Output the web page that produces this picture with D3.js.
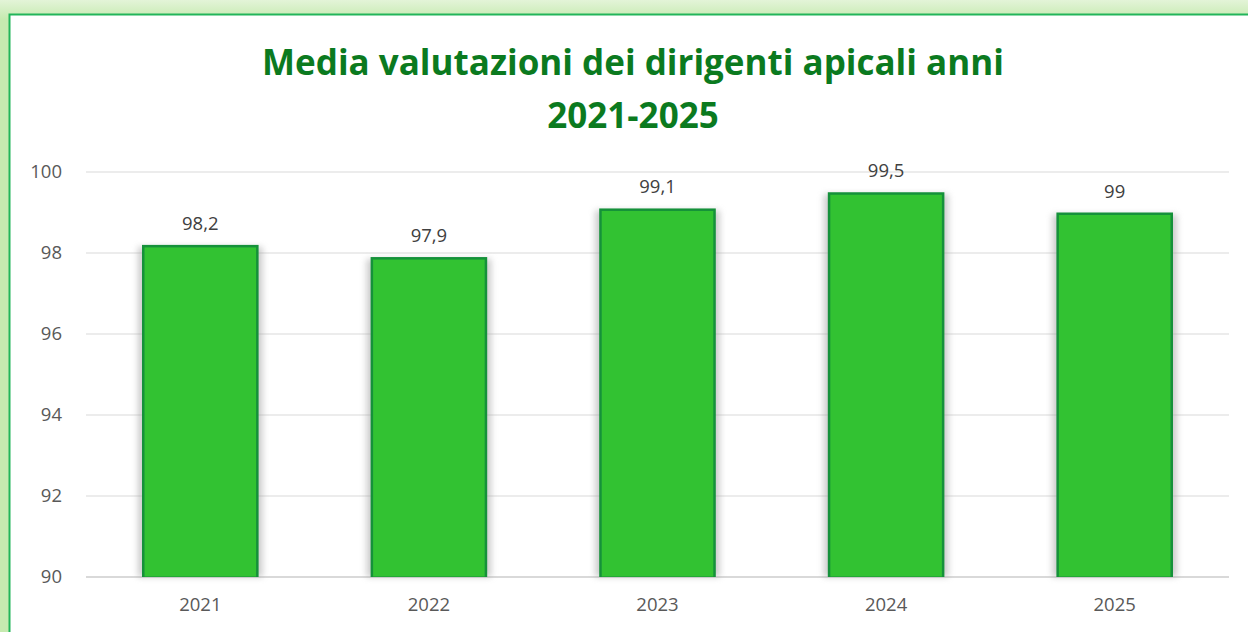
<!DOCTYPE html>
<html>
<head>
<meta charset="utf-8">
<script src="https://cdn.jsdelivr.net/npm/d3@7"></script>
<style>
  body { margin: 0; background: #fff; }
  svg { display: block; }
</style>
</head>
<body>
<div id="wrapper"></div>
<script>
// data
const years = ["2021", "2022", "2023", "2024", "2025"]
const values = [98.2, 97.9, 99.1, 99.5, 99]
const yTicks = [90, 92, 94, 96, 98, 100]
const titleLines = ["Media valutazioni dei dirigenti apicali anni", "2021-2025"]

const dimensions = {
  width: 1248,
  height: 632,
  margin: { top: 172, right: 19, bottom: 55, left: 86 },
}
dimensions.boundedWidth = dimensions.width - dimensions.margin.left - dimensions.margin.right
dimensions.boundedHeight = dimensions.height - dimensions.margin.top - dimensions.margin.bottom

const svg = d3.select("#wrapper").append("svg")
    .attr("width", dimensions.width)
    .attr("height", dimensions.height)

const defs = svg.append("defs")
const shadow = defs.append("filter").attr("id", "barShadow")
    .attr("x", "-20%").attr("y", "-5%").attr("width", "140%").attr("height", "110%")
shadow.append("feGaussianBlur").attr("stdDeviation", 3)

const bgGrad = defs.append("linearGradient").attr("id", "bgGrad")
    .attr("x1", 0).attr("y1", 0).attr("x2", 0).attr("y2", 1)
bgGrad.append("stop").attr("offset", "0%").attr("stop-color", "#e3f4d8")
bgGrad.append("stop").attr("offset", "3%").attr("stop-color", "#c6eab0")
bgGrad.append("stop").attr("offset", "100%").attr("stop-color", "#c6eab0")

// background frame
svg.append("rect")
    .attr("width", dimensions.width).attr("height", dimensions.height)
    .attr("fill", "url(#bgGrad)")
svg.append("rect")
    .attr("x", 9.5).attr("y", 14.5)
    .attr("width", dimensions.width + 20).attr("height", dimensions.height + 20)
    .attr("fill", "#ffffff")
    .attr("stroke", "#22b55a")
    .attr("stroke-width", 2)

// title
svg.append("g").selectAll("text")
  .data(titleLines)
  .join("text")
    .attr("x", 633)
    .attr("y", (d, i) => 75 + i * 53)
    .attr("text-anchor", "middle")
    .attr("fill", "#0b7a1f")
    .style("font-family", "'Open Sans', sans-serif")
    .style("font-weight", 700)
    .style("font-size", "35px")
    .text(d => d)

const bounds = svg.append("g")
    .attr("transform", `translate(${dimensions.margin.left}, ${dimensions.margin.top})`)

// scales
const xScale = d3.scaleBand()
    .domain(years)
    .range([0, dimensions.boundedWidth])
    .paddingInner(0.49)
    .paddingOuter(0.245)

const yScale = d3.scaleLinear()
    .domain([90, 100])
    .range([dimensions.boundedHeight, 0])

// gridlines
bounds.append("g").selectAll("line")
  .data(yTicks)
  .join("line")
    .attr("x1", 0).attr("x2", dimensions.boundedWidth)
    .attr("y1", d => yScale(d)).attr("y2", d => yScale(d))
    .attr("stroke", "#d9d9d9")
    .attr("stroke-width", d => d === 90 ? 2 : 1.2)

// y axis labels
const yAxis = bounds.append("g")
    .call(d3.axisLeft(yScale).tickValues(yTicks).tickSize(0).tickPadding(24))
yAxis.select(".domain").remove()
yAxis.selectAll("text")
    .attr("fill", "#595959")
    .style("font-family", "'Open Sans', sans-serif")
    .style("font-size", "18.5px")

// x axis labels
const xAxis = bounds.append("g")
    .attr("transform", `translate(0, ${dimensions.boundedHeight})`)
    .call(d3.axisBottom(xScale).tickSize(0).tickPadding(21))
xAxis.select(".domain").remove()
xAxis.selectAll("text")
    .attr("fill", "#595959")
    .style("font-family", "'Open Sans', sans-serif")
    .style("font-size", "18.5px")

// bars
const data = years.map((y, i) => ({ year: y, value: values[i] }))
const bw = xScale.bandwidth()

bounds.append("g").selectAll("rect")
  .data(data)
  .join("rect")
    .attr("x", d => xScale(d.year) - 4)
    .attr("y", d => yScale(d.value) + 2)
    .attr("width", bw + 8)
    .attr("height", d => dimensions.boundedHeight - yScale(d.value) - 2)
    .attr("fill", "#9a9a9a")
    .attr("opacity", 0.5)
    .attr("filter", "url(#barShadow)")

bounds.append("g").selectAll("rect")
  .data(data)
  .join("rect")
    .attr("x", d => xScale(d.year))
    .attr("y", d => yScale(d.value))
    .attr("width", bw)
    .attr("height", d => dimensions.boundedHeight - yScale(d.value))
    .attr("fill", "#15913a")

bounds.append("g").selectAll("rect")
  .data(data)
  .join("rect")
    .attr("x", d => xScale(d.year) + 2.5)
    .attr("y", d => yScale(d.value) + 2.5)
    .attr("width", bw - 5)
    .attr("height", d => dimensions.boundedHeight - yScale(d.value) - 3)
    .attr("fill", "#32c232")

// data labels
bounds.append("g").selectAll("text")
  .data(data)
  .join("text")
    .attr("x", d => xScale(d.year) + bw / 2)
    .attr("y", d => yScale(d.value) - 15)
    .attr("text-anchor", "middle")
    .attr("fill", "#404040")
    .style("font-family", "'Open Sans', sans-serif")
    .style("font-size", "18.5px")
    .text(d => String(d.value).replace(".", ","))
</script>
</body>
</html>
